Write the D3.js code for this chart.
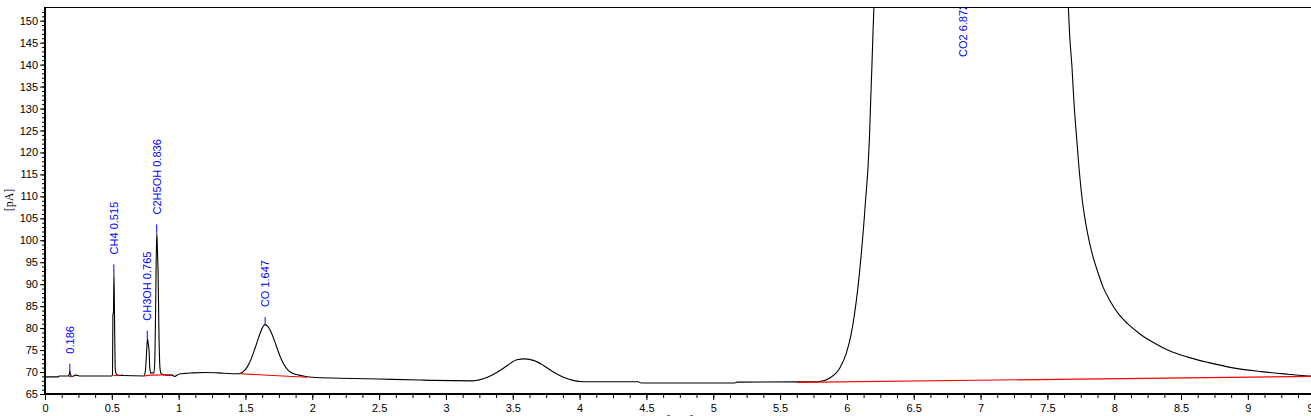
<!DOCTYPE html>
<html><head><meta charset="utf-8">
<script src="https://cdn.jsdelivr.net/npm/d3@7"></script>
<style>html,body{margin:0;padding:0;background:#fff;overflow:hidden}svg{display:block}</style>
</head><body><svg id="c" width="1311" height="416"></svg>
<script>
// ---- data ----
const traceTime = [
  0.00,0.10,0.105,0.17,0.18,0.186,0.19,0.20,0.215,0.225,0.245,0.26,
  0.50,0.505,0.508,0.512,0.516,0.521,0.526,0.535,0.545,0.57,0.575,0.58,
  0.74,0.752,0.76,0.767,0.772,0.778,0.784,0.79,0.815,0.822,0.828,0.836,0.842,0.846,0.852,0.86,0.87,0.90,0.95,0.97,
  1.00,1.05,1.10,1.20,1.30,1.40,1.45,
  1.48,1.51,1.54,1.57,1.60,1.625,1.646,1.67,1.70,1.73,1.76,1.79,1.82,1.86,1.90,1.95,
  2.00,2.20,2.50,2.80,2.90,3.20,3.31,3.38,3.46,3.53,3.591,3.66,3.73,3.81,3.88,3.95,4.03,
  4.44,4.46,5.16,5.18,5.785,5.87,5.946,5.996,6.033,6.058,6.083,6.108,6.125,6.14,6.158,6.17,6.178,6.187,6.195,6.202,
  6.23,6.30,6.45,6.872,7.30,7.50,7.60,
  7.657,7.666,7.684,7.698,7.716,7.736,7.761,7.800,7.834,7.879,7.916,7.965,8.028,
  8.10,8.20,8.30,8.40,8.55,8.70,8.90,9.10,9.30,9.45,9.60
];
const traceSignal = [
  68.9,68.9,69.1,69.1,69.3,70.2,69.5,69.0,69.1,69.3,69.2,69.1,
  69.1,69.4,83.0,83.5,92.8,80.0,70.5,69.5,69.3,69.2,69.4,69.2,
  69.1,70.5,74.5,77.7,76.5,75.2,71.0,69.8,69.8,73.0,85.0,101.9,97.0,93.0,80.0,71.0,69.6,69.3,69.3,69.0,
  69.5,69.7,69.8,69.9,69.8,69.6,69.6,
  70.0,71.0,72.8,75.3,78.0,80.0,80.8,80.3,78.5,76.0,73.5,71.6,70.4,69.6,69.3,69.0,
  68.8,68.6,68.4,68.2,68.1,68.0,68.8,69.9,71.5,72.8,73.0,72.6,71.5,69.9,68.8,68.1,67.8,
  67.8,67.5,67.5,67.7,67.8,68.6,70.85,74.3,78.8,83.4,89.4,97.0,103.1,109.2,116.75,124.4,131.9,139.5,147.1,153.05,
  175,230,320,400,320,240,185,
  153.05,147.1,139.5,131.9,124.4,116.75,109.2,101.7,97.1,92.6,89.4,86.4,83.4,
  81.0,78.5,76.6,75.0,73.4,72.2,70.9,70.1,69.5,69.1,69.0
];

// integration baselines (red)
const baselineSegments = [
  [[0.178,68.95],[0.203,68.95]],
  [[0.512,69.2],[0.552,69.2]],
  [[0.74,69.1],[0.79,69.3],[0.95,69.4]],
  [[1.46,69.6],[1.96,68.8]],
  [[5.626,67.65],[9.60,69.05]]
];

// peak annotations
const peakCompounds = ["", "CH4", "CH3OH", "C2H5OH", "CO", "CO2"];
const peakTimes     = [0.186, 0.515, 0.765, 0.836, 1.647, 6.872];
const peakApex      = [70.2, 92.8, 77.7, 101.9, 80.8, 400];

const xTicks = [0,0.5,1,1.5,2,2.5,3,3.5,4,4.5,5,5.5,6,6.5,7,7.5,8,8.5,9,9.5];
const yTicks = [65,70,75,80,85,90,95,100,105,110,115,120,125,130,135,140,145,150];

// ---- drawing ----
const W = 1311, H = 416;
const svg = d3.select("#c");
const pLeft = 45, pTop = 7, pBottom = 394;
const x = d3.scaleLinear().domain([0, 9.5]).range([pLeft, pLeft + 9.5 * 133.65]);
const y = d3.scaleLinear().domain([65, 150]).range([pBottom, 20.7]);
const yTopVal = y.invert(pTop);

const font = "'Liberation Sans', Arial, sans-serif";

svg.append("defs").append("clipPath").attr("id", "plot")
  .append("rect").attr("x", pLeft).attr("y", pTop).attr("width", W - pLeft).attr("height", pBottom - pTop);

// top frame line
svg.append("line").attr("x1", pLeft).attr("x2", W).attr("y1", pTop + 0.5).attr("y2", pTop + 0.5)
  .attr("stroke", "#000").attr("stroke-width", 1);

// x minor ticks
const xMinor = d3.range(0, 9.6, 0.125);
svg.append("g").attr("transform", `translate(0,${pBottom})`)
  .call(d3.axisBottom(x).tickValues(xMinor).tickSize(4).tickFormat(""))
  .call(g => g.select(".domain").remove())
  .call(g => g.selectAll("line").attr("stroke", "#000"));
// x major
svg.append("g").attr("transform", `translate(0,${pBottom})`)
  .call(d3.axisBottom(x).tickValues(xTicks).tickSize(6).tickPadding(4).tickFormat(d => String(d)))
  .call(g => g.select(".domain").attr("stroke", "#000").attr("stroke-width", 2).attr("d", `M${pLeft-1},0H${W}`))
  .call(g => g.selectAll("line").attr("stroke", "#000"))
  .call(g => g.selectAll("text").attr("fill", "#000").style("font", `11px ${font}`));

// y minor ticks
const yMinor = d3.range(65, 153, 1);
svg.append("g").attr("transform", `translate(${pLeft},0)`)
  .call(d3.axisLeft(y).tickValues(yMinor).tickSize(3).tickFormat(""))
  .call(g => g.select(".domain").remove())
  .call(g => g.selectAll("line").attr("stroke", "#000"));
// y major
svg.append("g").attr("transform", `translate(${pLeft},0)`)
  .call(d3.axisLeft(y).tickValues(yTicks).tickSize(5).tickPadding(2).tickFormat(d => String(d)))
  .call(g => g.select(".domain").attr("stroke", "#000").attr("stroke-width", 2).attr("d", `M0,${pTop}V${pBottom+1}`))
  .call(g => g.selectAll("line").attr("stroke", "#000"))
  .call(g => g.selectAll("text").attr("fill", "#000").style("font", `11px ${font}`));

// axis titles
svg.append("text").attr("transform", "translate(12.5,200) rotate(-90)")
  .attr("text-anchor", "middle").style("font", "12px 'Liberation Serif', 'Times New Roman', serif")
  .attr("fill", "#000").text("[pA]");
svg.append("text").attr("x", 680).attr("y", 424)
  .attr("text-anchor", "middle").style("font", "12px 'Liberation Serif', 'Times New Roman', serif")
  .attr("fill", "#000").text("[min]");

const plot = svg.append("g").attr("clip-path", "url(#plot)");

const tracePts = traceTime.map((t, i) => [t, traceSignal[i]]);
const line = d3.line().x(d => x(d[0])).y(d => y(d[1]));
const smoothLine = d3.line().x(d => x(d[0])).y(d => y(d[1])).curve(d3.curveMonotoneX);

plot.append("path").datum(tracePts).attr("d", smoothLine)
  .attr("fill", "none").attr("stroke", "#000").attr("stroke-width", 1.1);

plot.selectAll(".bl").data(baselineSegments).enter().append("path")
  .attr("d", line).attr("fill", "none").attr("stroke", "#ff0000").attr("stroke-width", 1.1);

// peak labels
const tickLen = 7.5, gap = 10;
peakTimes.forEach((t, i) => {
  const px = x(t);
  const apex = peakApex[i];
  const onScale = apex <= yTopVal;
  const ay = y(apex);
  let textEnd;
  if (onScale) {
    plot.append("line").attr("x1", px).attr("x2", px)
      .attr("y1", ay).attr("y2", ay - tickLen)
      .attr("stroke", "#0000ff").attr("stroke-width", 1);
    textEnd = ay - tickLen - gap;
  } else {
    textEnd = pTop + 50;
  }
  const label = (peakCompounds[i] ? peakCompounds[i] + " " : "") + t.toFixed(3);
  plot.append("text")
    .attr("transform", `translate(${px},${textEnd}) rotate(-90)`)
    .attr("text-anchor", "start").attr("dominant-baseline", "central")
    .style("font", `11px ${font}`).attr("fill", "#0000ff")
    .text(label);
});
</script>
</body></html>
